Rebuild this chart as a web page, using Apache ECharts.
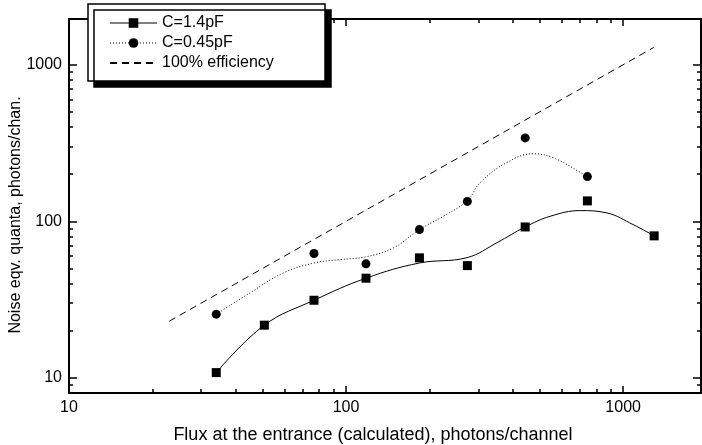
<!DOCTYPE html>
<html>
<head>
<meta charset="utf-8">
<script src="https://cdn.jsdelivr.net/npm/echarts@6/dist/echarts.min.js"></script>
<style>
    html, body { margin: 0; padding: 0; background: #fff; }
    #chart { width: 702px; height: 445px; }
</style>
</head>
<body>
<div id="chart"></div>
<script>
    const flux14 = [34, 50.7, 76.6, 118, 184, 274, 443, 743, 1294]
    const noise14 = [10.8, 21.7, 31.3, 43.3, 58.4, 52.1, 92, 135, 80.7]
    const flux045 = [34, 76.6, 118, 184, 274, 443, 743]
    const noise045 = [25.5, 62.3, 53.5, 88.5, 134, 341, 193]

    // fitted curves
    const fit14X = [34, 50.7, 76.6, 118, 183.5, 273.5, 351, 443, 545, 700, 875, 1086, 1294]
    const fit14Y = [10.8, 21.7, 31.3, 43.3, 54.1, 58.6, 73.1, 92, 107.6, 117, 113, 95.3, 80.7]
    const fit045X = [34, 45, 59.4, 76.8, 95.1, 117.8, 148.2, 184, 224.4, 274, 304.7, 380, 473, 558, 700, 743]
    const fit045Y = [25.5, 34.9, 46.8, 54.2, 56.9, 59.3, 67.6, 88.5, 107.7, 135.5, 176.6, 237, 270, 255, 205.6, 193]

    // 100% efficiency reference line
    const idealX = [23, 1290]
    const idealY = [23, 1290]

    // tick values
    const majorTicks = [10, 100, 1000]
    const xMinorTicks = [20, 30, 40, 50, 60, 70, 80, 90, 200, 300, 400, 500, 600, 700, 800, 900]
    const yMinorTicks = [9, 20, 30, 40, 50, 60, 70, 80, 90, 200, 300, 400, 500, 600, 700, 800, 900]

    const font = '"Liberation Sans", Arial, sans-serif'
    const xRange = { min: 10, max: 1910 }
    const yRange = { min: 8, max: 1960 }

    const pairs = (xs, ys) => xs.map((x, i) => [x, ys[i]])

    // one log axis; ticks only where given
    const logAxis = (pos, range, ticks, tickLen, showLine, extra) => Object.assign({
        type: 'log',
        logBase: 10,
        position: pos,
        min: range.min,
        max: range.max,
        axisLine: { show: showLine, lineStyle: { color: '#000', width: 2 } },
        axisTick: { show: true, inside: true, length: tickLen, customValues: ticks, lineStyle: { color: '#000', width: 1.5 } },
        splitLine: { show: false },
        axisLabel: { show: false }
    }, extra || {})

    const labelStyle = {
        show: true,
        color: '#000',
        fontSize: 16,
        fontFamily: font,
        margin: 7,
        customValues: majorTicks,
        formatter: v => String(Math.round(v))
    }

    let option = {
        animation: false,
        backgroundColor: '#fff',
        grid: {
            left: 69,
            top: 19,
            width: 632,
            height: 374,
            outerBoundsMode: 'none',
            containLabel: false
        },
        legend: {
            orient: 'vertical',
            left: 88,
            top: 4,
            padding: [11, 26, 10, 21],
            itemWidth: 47,
            itemHeight: 12,
            itemGap: 4,
            selectedMode: false,
            backgroundColor: '#fff',
            borderColor: '#000',
            borderWidth: 1.5,
            shadowColor: '#000',
            shadowBlur: 0,
            shadowOffsetX: 6,
            shadowOffsetY: 6,
            textStyle: { color: '#000', fontSize: 16, fontFamily: font, lineHeight: 16, width: 137 },
            data: [
                { name: 'C=1.4pF', lineStyle: { opacity: 1, width: 1, color: '#000', type: 'solid' } },
                { name: 'C=0.45pF', lineStyle: { opacity: 1, width: 1, color: '#000', type: [1, 2] } },
                { name: '100% efficiency', itemStyle: { opacity: 0 } }
            ]
        },
        xAxis: [
            logAxis('bottom', xRange, majorTicks, 7, true, {
                axisLabel: labelStyle,
                name: 'Flux at the entrance (calculated), photons/channel',
                nameLocation: 'middle',
                nameGap: 33,
                nameMoveOverlap: false,
                nameTextStyle: { color: '#000', fontSize: 18, fontFamily: font, padding: [0, 24, 0, 0] }
            }),
            logAxis('bottom', xRange, xMinorTicks, 4, false),
            logAxis('top', xRange, majorTicks, 7, true),
            logAxis('top', xRange, xMinorTicks, 4, false)
        ],
        yAxis: [
            logAxis('left', yRange, majorTicks, 8, true, {
                axisLabel: labelStyle,
                name: 'Noise eqv. quanta, photons/chan.',
                nameLocation: 'middle',
                nameGap: 45,
                nameMoveOverlap: false,
                nameTextStyle: { color: '#000', fontSize: 16, fontFamily: font, padding: [0, 18, 0, 0] }
            }),
            logAxis('left', yRange, yMinorTicks, 4, false),
            logAxis('right', yRange, majorTicks, 8, true),
            logAxis('right', yRange, yMinorTicks, 4, false)
        ],
        series: [
            {
                name: '100% efficiency',
                type: 'line',
                symbol: 'none',
                data: pairs(idealX, idealY),
                lineStyle: { color: '#000', width: 1, type: [7, 5] },
                z: 2
            },
            {
                name: 'fit14',
                type: 'line',
                symbol: 'none',
                smooth: 0.4,
                data: pairs(fit14X, fit14Y),
                lineStyle: { color: '#000', width: 1 },
                z: 2
            },
            {
                name: 'fit045',
                type: 'line',
                symbol: 'none',
                smooth: 0.4,
                data: pairs(fit045X, fit045Y),
                lineStyle: { color: '#000', width: 1, type: [1, 2] },
                z: 2
            },
            {
                name: 'C=1.4pF',
                type: 'line',
                symbol: 'rect',
                symbolSize: 9,
                data: pairs(flux14, noise14),
                itemStyle: { color: '#000' },
                lineStyle: { opacity: 0 },
                z: 3
            },
            {
                name: 'C=0.45pF',
                type: 'line',
                symbol: 'circle',
                symbolSize: 9,
                data: pairs(flux045, noise045),
                itemStyle: { color: '#000' },
                lineStyle: { opacity: 0 },
                z: 3
            }
        ]
    }

    const EC = echarts.init(document.getElementById('chart'))
    EC.setOption(option)
</script>
</body>
</html>
